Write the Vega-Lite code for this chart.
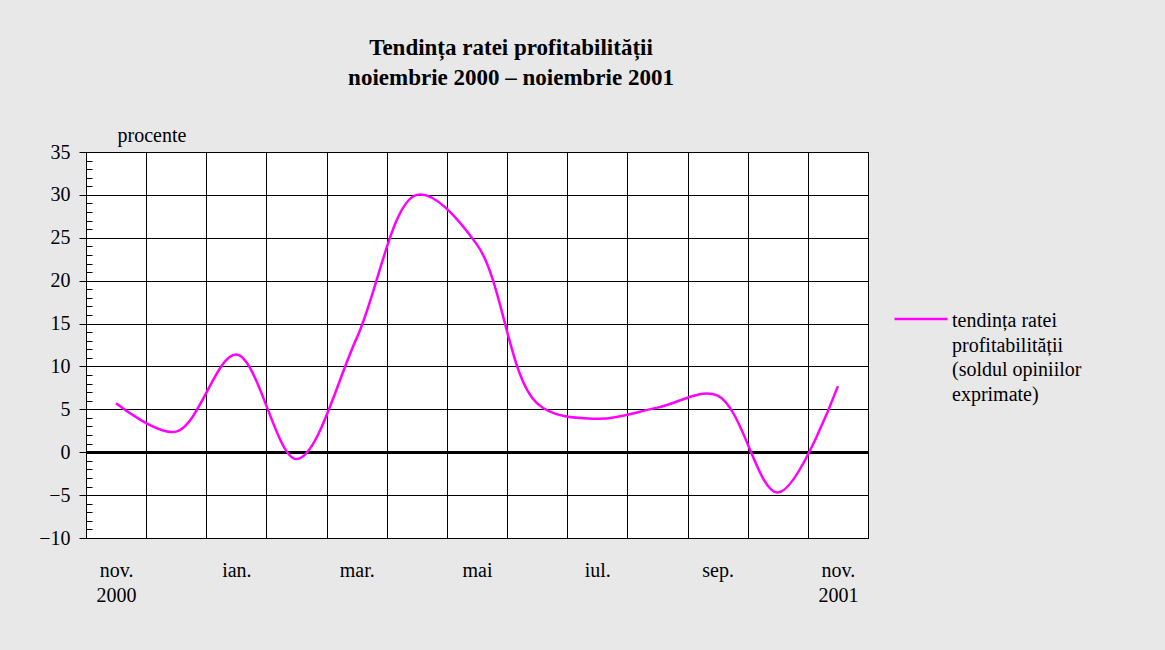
{
  "$schema": "https://vega.github.io/schema/vega-lite/v6.json",
  "width": 782,
  "height": 386,
  "autosize": {"type": "none"},
  "padding": {"left": 86, "top": 152, "right": 297, "bottom": 112},
  "background": "#e8e8e8",
  "config": {
    "view": {"fill": "white", "stroke": "black", "strokeWidth": 1},
    "font": "Liberation Serif"
  },
  "title": {
    "text": ["Tendința ratei profitabilității", "noiembrie 2000 – noiembrie 2001"],
    "font": "Liberation Serif",
    "fontWeight": "bold",
    "fontSize": 23,
    "lineHeight": 30,
    "color": "black",
    "anchor": "middle",
    "frame": "group",
    "offset": 35,
    "dx": 34
  },
  "data": {
    "values": [
      {"luna": "nov. 2000", "valoare": 5.7},
      {"luna": "dec. 2000", "valoare": 2.4},
      {"luna": "ian. 2001", "valoare": 11.4},
      {"luna": "feb. 2001", "valoare": -0.8},
      {"luna": "mar. 2001", "valoare": 13.3},
      {"luna": "apr. 2001", "valoare": 30.0},
      {"luna": "mai 2001", "valoare": 24.2},
      {"luna": "iun. 2001", "valoare": 5.7},
      {"luna": "iul. 2001", "valoare": 3.9},
      {"luna": "aug. 2001", "valoare": 5.2},
      {"luna": "sep. 2001", "valoare": 6.6},
      {"luna": "oct. 2001", "valoare": -4.7},
      {"luna": "nov. 2001", "valoare": 7.7}
    ]
  },
  "resolve": {"axis": {"y": "independent"}},
  "layer": [
    {
      "mark": {"type": "rule", "color": "black", "strokeWidth": 2.5},
      "encoding": {
        "y": {
          "datum": 0,
          "type": "quantitative",
          "axis": {
            "orient": "left",
            "values": [-10,-9,-8,-7,-6,-5,-4,-3,-2,-1,0,1,2,3,4,5,6,7,8,9,10,11,12,13,14,15,16,17,18,19,20,21,22,23,24,25,26,27,28,29,30,31,32,33,34,35],
            "tickSize": -6,
            "tickColor": "black",
            "labels": false,
            "grid": false,
            "domain": false,
            "title": null
          }
        }
      }
    },
    {
      "mark": {"type": "line", "interpolate": "catmull-rom", "strokeWidth": 2.5},
      "encoding": {
        "x": {
          "field": "luna",
          "type": "ordinal",
          "sort": null,
          "bandPosition": 0.5,
          "scale": {"type": "band", "paddingInner": 0, "paddingOuter": 0},
          "axis": {
            "tickBand": "extent",
            "grid": true,
            "gridColor": "black",
            "gridOpacity": 1,
            "gridWidth": 1,
            "ticks": false,
            "tickSize": 0,
            "domain": true,
            "domainColor": "black",
            "labelAngle": 0,
            "labelOverlap": false,
            "labelBound": false,
            "labelExpr": "datum.value == 'nov. 2000' ? ['nov.', '2000'] : datum.value == 'nov. 2001' ? ['nov.', '2001'] : indexof(['ian. 2001', 'mar. 2001', 'mai 2001', 'iul. 2001', 'sep. 2001'], datum.value) >= 0 ? split(datum.value, ' ')[0] : ''",
            "labelFont": "Liberation Serif",
            "labelFontSize": 20,
            "labelColor": "black",
            "labelPadding": 22,
            "labelLineHeight": 25,
            "labelBaseline": "top",
            "title": null
          }
        },
        "y": {
          "field": "valoare",
          "type": "quantitative",
          "scale": {"domain": [-10, 35], "nice": false, "zero": false},
          "axis": {
            "orient": "left",
            "values": [-10, -5, 0, 5, 10, 15, 20, 25, 30, 35],
            "grid": true,
            "gridColor": "black",
            "gridOpacity": 1,
            "gridWidth": 1,
            "domainColor": "black",
            "tickColor": "black",
            "tickSize": 7,
            "labelPadding": 9,
            "labelFont": "Liberation Serif",
            "labelFontSize": 20,
            "labelColor": "black",
            "title": "procente",
            "titleAngle": 0,
            "titleX": 31,
            "titleY": -11,
            "titleAlign": "left",
            "titleBaseline": "alphabetic",
            "titleFont": "Liberation Serif",
            "titleFontSize": 20,
            "titleFontWeight": "normal",
            "titleColor": "black"
          }
        },
        "color": {
          "datum": "tendința ratei profitabilității (soldul opiniilor exprimate)",
          "type": "nominal",
          "scale": {"range": ["#ff00ff"]},
          "legend": {
            "orient": "none",
            "legendX": 807,
            "legendY": 139,
            "padding": 0,
            "title": null,
            "symbolType": "stroke",
            "symbolSize": 2809,
            "symbolStrokeWidth": 2.5,
            "labelExpr": "['tendința ratei', 'profitabilității', '(soldul opiniilor', 'exprimate)']",
            "labelFont": "Liberation Serif",
            "labelFontSize": 20,
            "labelBaseline": "top",
            "labelOffset": 3,
            "labelLimit": 400,
            "labelColor": "black",
            "encode": {
              "labels": {
                "update": {
                  "lineHeight": {"value": 24.5},
                  "dy": {"value": -8}
                }
              }
            }
          }
        }
      }
    }
  ]
}
